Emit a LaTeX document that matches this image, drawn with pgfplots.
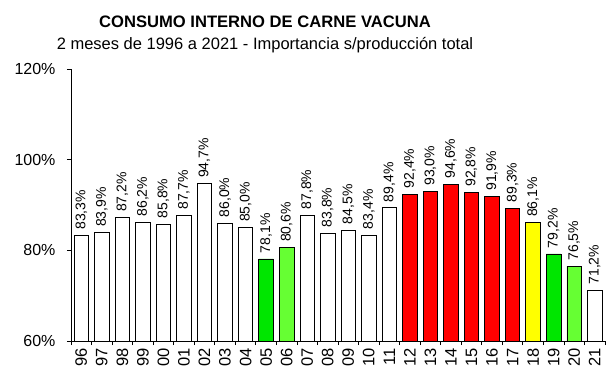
\documentclass[border=0pt]{standalone}
\usepackage{pgfplots}
\pgfplotsset{compat=1.18}
\usepackage{fontspec}
\setmainfont{Liberation Sans}
\definecolor{vgreen}{RGB}{0,230,0}
\definecolor{lgreen}{RGB}{102,255,51}
\definecolor{vred}{RGB}{255,0,0}
\definecolor{vyellow}{RGB}{255,255,0}
\begin{document}
\begin{tikzpicture}
\path[use as bounding box] (-71bp,-38bp) rectangle (544bp,341bp);
\begin{axis}[
  scale only axis, width=534bp, height=272bp,
  xmin=-0.5, xmax=25.5, ymin=60, ymax=120,
  axis x line=bottom, axis y line=left,
  axis line style={-, black, line width=0.8pt},
  ybar, bar width=14.5bp, bar shift=0pt,
  ytick={60,80,100,120},
  yticklabel={\pgfmathprintnumber{\tick}\%},
  /pgf/number format/assume math mode=true,
  tick align=outside, major tick length=4bp,
  tick style={black, line width=0.8pt},
  xtick={0,...,25},
  xticklabels={96,97,98,99,00,01,02,03,04,05,06,07,08,09,10,11,12,13,14,15,16,17,18,19,20,21},
  major x tick style={draw=none},
  minor xtick={-0.5,0.5,...,25.5},
  minor tick length=4bp,
  x tick label style={rotate=90, anchor=east, font=\fontsize{16.5bp}{18bp}\selectfont},
  y tick label style={font=\fontsize{16bp}{18bp}\selectfont, xshift=-8bp},
  nodes near coords={\pgfmathprintnumber[fixed,fixed zerofill,precision=1,use comma]{\pgfplotspointmeta}\%},
  every node near coord/.append style={rotate=90, anchor=west, font=\fontsize{14bp}{16bp}\selectfont, black, xshift=2bp},
  every axis plot/.append style={draw=black, line width=0.8pt},
]
\addplot[fill=white] coordinates {(0,83.3)(1,83.9)(2,87.2)(3,86.2)(4,85.8)(5,87.7)(6,94.7)(7,86.0)(8,85.0)(11,87.8)(12,83.8)(13,84.5)(14,83.4)(15,89.4)(25,71.2)};
\addplot[fill=vgreen] coordinates {(9,78.1)(23,79.2)};
\addplot[fill=lgreen] coordinates {(10,80.6)(24,76.5)};
\addplot[fill=vred] coordinates {(16,92.4)(17,93.0)(18,94.6)(19,92.8)(20,91.9)(21,89.3)};
\addplot[fill=vyellow] coordinates {(22,86.1)};
\end{axis}
\node[font=\bfseries\fontsize{16.6bp}{20bp}\selectfont, anchor=base] at (194bp,313bp) {CONSUMO INTERNO DE CARNE VACUNA};
\node[font=\fontsize{16.5bp}{18bp}\selectfont, anchor=base] at (194bp,291bp) {2 meses de 1996 a 2021 - Importancia s/producción total};
\end{tikzpicture}
\end{document}
